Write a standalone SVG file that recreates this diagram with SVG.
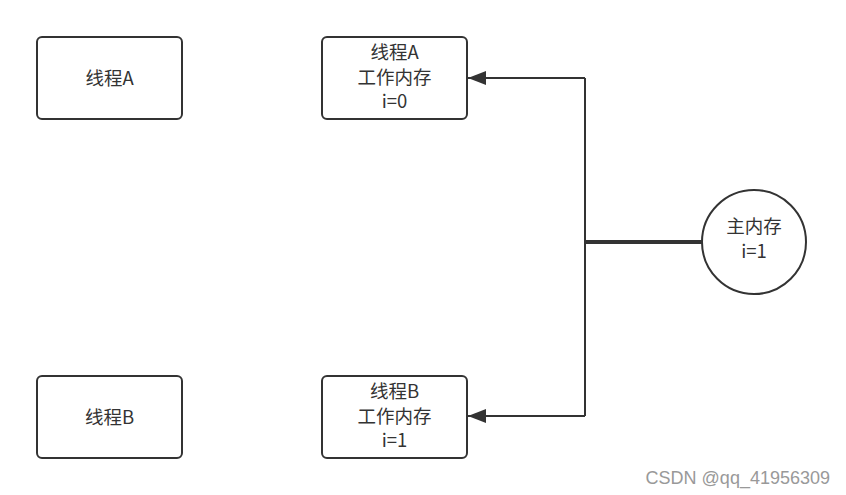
<svg xmlns="http://www.w3.org/2000/svg" width="846" height="495" viewBox="0 0 846 495">
<style>
.box{fill:#fff;stroke:#333;stroke-width:2}
.t{font-family:"Microsoft YaHei","Noto Sans CJK SC",sans-serif;font-size:18.5px;fill:#333;text-anchor:middle}
.ln{fill:none;stroke:#333;stroke-width:2}
</style>
<defs>
<marker id="arr" viewBox="0 0 18 14" refX="18" refY="7" markerWidth="18" markerHeight="14" orient="auto" markerUnits="userSpaceOnUse">
<path d="M0,0 L18,7 L0,14 Z" fill="#333"/>
</marker>
</defs>
<rect width="846" height="495" fill="#fff"/>
<g id="threadA"><rect class="box" x="37" y="37" width="145" height="82" rx="5"/><text class="t" x="109.5" y="84.5">线程A</text></g>
<g id="threadB"><rect class="box" x="37" y="376" width="145" height="82" rx="5"/><text class="t" x="109.5" y="423.5">线程B</text></g>
<g id="workA"><rect class="box" x="322" y="37" width="145" height="82" rx="5"/><text class="t" x="394.5" y="59">线程A</text><text class="t" x="394.5" y="84">工作内存</text><text class="t" x="394.5" y="108">i=0</text></g>
<g id="workB"><rect class="box" x="322" y="376" width="145" height="82" rx="5"/><text class="t" x="394.5" y="398">线程B</text><text class="t" x="394.5" y="423">工作内存</text><text class="t" x="394.5" y="447">i=1</text></g>
<g id="main"><circle cx="754" cy="242" r="52" fill="#fff" stroke="#333" stroke-width="2"/><text class="t" x="754" y="233">主内存</text><text class="t" x="754" y="258">i=1</text></g>
<g id="connectors">
<path class="ln" d="M585,78 L585,416"/>
<path class="ln" d="M585,78 L468,78" marker-end="url(#arr)"/>
<path class="ln" d="M585,416 L468,416" marker-end="url(#arr)"/>
<path d="M585,242 L702,242" fill="none" stroke="#333" stroke-width="4"/>
</g>
<text x="830" y="484" font-family="Liberation Sans, Arial, sans-serif" font-size="18" fill="#999" text-anchor="end">CSDN @qq_41956309</text>
</svg>
